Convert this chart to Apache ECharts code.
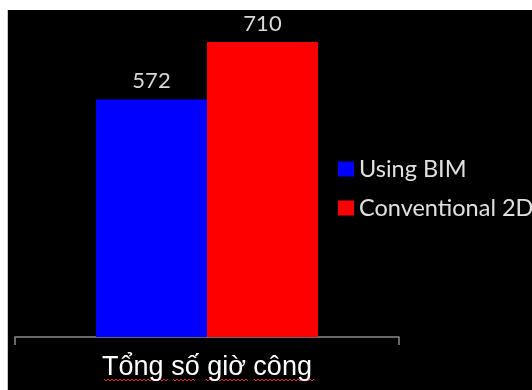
<!DOCTYPE html>
<html>
<head>
<meta charset="utf-8">
<script src="https://cdn.jsdelivr.net/npm/echarts@6/dist/echarts.min.js"></script>
<style>
  html, body { margin: 0; padding: 0; background: #ffffff; }
  #frame { position: absolute; left: 7px; top: 10px; width: 525px; height: 380px;
           border-left: 1px solid #c8c8c8; box-sizing: border-box; background: #000; }
  #chart { position: absolute; left: 1px; top: 0; width: 524px; height: 380px; }
</style>
</head>
<body>
<div id="frame"><div id="chart"></div></div>
<script>
// Total man-hours: BIM workflow vs conventional 2D drafting
const categories = ['Tổng số giờ công'];
const seriesNames = ['Using BIM', 'Conventional 2D'];
const usingBIM = [572];
const conventional2D = [710];
const seriesColors = ['#0000ff', '#ff0000'];

const chart = echarts.init(document.getElementById('chart'));

// Red squiggle under each word of the category label (spell-check marks)
function squiggle(x0, x1, y) {
  const pts = [];
  let up = true;
  for (let x = x0; x <= x1; x += 2) {
    pts.push([x, up ? y : y + 2]);
    up = !up;
  }
  return {
    type: 'polyline',
    shape: { points: pts },
    style: { stroke: '#e03030', lineWidth: 1, fill: null },
    silent: true
  };
}

const labelStyle = {
  show: true,
  position: 'top',
  distance: 7,
  color: '#d9d9d9',
  fontFamily: 'Lato',
  fontSize: 22
};

chart.setOption({
  backgroundColor: '#000000',
  animation: false,
  grid: { left: 6, right: 134, top: 3, bottom: 53 },
  legend: {
    orient: 'vertical',
    left: 324,
    top: 142,
    itemWidth: 16,
    itemHeight: 15,
    itemGap: 15,
    icon: 'rect',
    textStyle: { color: '#e0e0e0', fontFamily: 'Lato', fontSize: 23.5 },
    data: seriesNames
  },
  xAxis: {
    type: 'category',
    data: categories,
    axisLine: { lineStyle: { color: '#8a8a8a', width: 1.5 } },
    axisTick: { show: true, length: 8, lineStyle: { color: '#8a8a8a', width: 1.5 } },
    axisLabel: { color: '#ffffff', fontFamily: 'Liberation Sans', fontSize: 27, margin: 17 }
  },
  yAxis: {
    type: 'value',
    min: 0,
    max: 780,
    show: false,
    splitLine: { show: false }
  },
  series: [
    {
      name: seriesNames[0],
      type: 'bar',
      data: usingBIM,
      barWidth: 111,
      barGap: '0%',
      itemStyle: { color: seriesColors[0] },
      label: labelStyle
    },
    {
      name: seriesNames[1],
      type: 'bar',
      data: conventional2D,
      barWidth: 111,
      barGap: '0%',
      itemStyle: { color: seriesColors[1] },
      label: labelStyle
    }
  ],
  graphic: [
    squiggle(95, 160, 369),
    squiggle(164, 187, 369),
    squiggle(197, 239, 369),
    squiggle(245, 305, 369)
  ]
});
</script>
</body>
</html>
